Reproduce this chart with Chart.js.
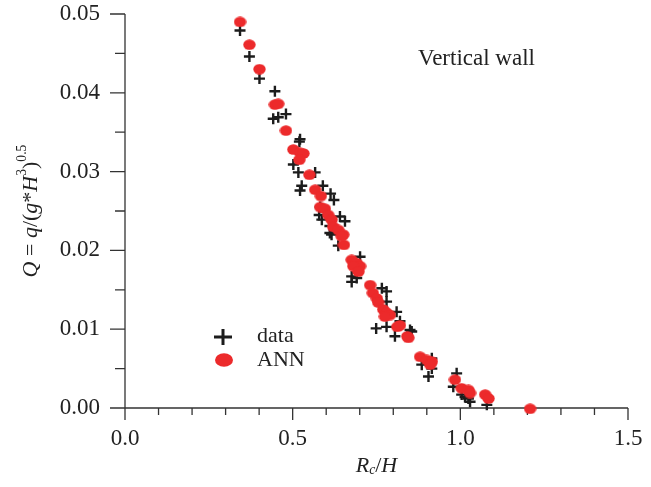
<!DOCTYPE html>
<html><head><meta charset="utf-8">
<script src="https://cdn.jsdelivr.net/npm/chart.js@4/dist/chart.umd.min.js"></script>
<style>html,body{margin:0;padding:0;background:#fff;}</style>
</head><body>
<canvas id="c" width="651" height="487"></canvas>
<script>
// ---- data ----
const dataX = [0.343,0.371,0.401,0.447,0.442,0.457,0.480,0.522,0.520,0.502,0.517,0.567,0.527,0.522,0.590,0.613,0.623,0.582,0.579,0.587,0.641,0.656,0.611,0.616,0.636,0.611,0.701,0.676,0.676,0.691,0.766,0.780,0.780,0.810,0.780,0.749,0.850,0.805,0.855,0.820,0.885,0.915,0.905,0.915,0.989,0.979,1.004,1.024,1.079,1.014,1.029];
const dataY = [0.0479,0.0446,0.0418,0.0402,0.0367,0.0369,0.0373,0.0341,0.0338,0.0309,0.0299,0.0299,0.0282,0.0276,0.0282,0.0272,0.0264,0.0255,0.0245,0.0239,0.0243,0.0237,0.0231,0.0220,0.0206,0.0222,0.0192,0.0167,0.0160,0.0165,0.0152,0.0148,0.0135,0.0122,0.0103,0.0101,0.0099,0.0091,0.0097,0.0110,0.0055,0.0063,0.0040,0.0050,0.0044,0.0027,0.0017,0.0012,0.0004,0.0014,0.0008];
const annX = [0.343,0.371,0.401,0.447,0.457,0.480,0.502,0.522,0.532,0.520,0.550,0.567,0.584,0.582,0.596,0.606,0.616,0.621,0.636,0.651,0.653,0.646,0.676,0.691,0.701,0.681,0.696,0.731,0.739,0.751,0.755,0.770,0.780,0.790,0.775,0.812,0.842,0.820,0.845,0.880,0.900,0.915,0.910,0.984,1.004,1.024,1.029,1.074,1.084,1.208];
const annY = [0.0490,0.0461,0.0430,0.0385,0.0386,0.0352,0.0328,0.0324,0.0323,0.0315,0.0296,0.0277,0.0269,0.0255,0.0253,0.0245,0.0239,0.0230,0.0226,0.0220,0.0207,0.0218,0.0188,0.0184,0.0180,0.0180,0.0173,0.0156,0.0146,0.0139,0.0134,0.0125,0.0121,0.0118,0.0116,0.0103,0.0091,0.0105,0.0089,0.0065,0.0061,0.0059,0.0055,0.0036,0.0025,0.0023,0.0019,0.0017,0.0012,-0.0001];
const xMajor = [0, 0.5, 1.0, 1.5];
const xMinor = [0.1,0.2,0.3,0.4,0.6,0.7,0.8,0.9,1.1,1.2,1.3,1.4];
const yMajor = [0, 0.01, 0.02, 0.03, 0.04, 0.05];
const yMinor = [0.005, 0.015, 0.025, 0.035, 0.045];
const seriesNames = ['data', 'ANN'];
const annotationText = 'Vertical wall';

const RED = '#ec2a2b';
const BLACK = '#1c1c1c';
const AXIS = '#333333';
const SERIF = '"Liberation Serif","Times New Roman",serif';

function ellipseCanvas(w, h, color) {
  const c = document.createElement('canvas');
  c.width = w; c.height = h;
  const g = c.getContext('2d');
  g.fillStyle = color;
  g.beginPath();
  g.ellipse(w/2, h/2, w/2 - 0.3, h/2 - 0.3, 0, 0, Math.PI*2);
  g.fill();
  return c;
}
const annMarker = ellipseCanvas(13, 11, RED);

function drawRich(ctx, parts, size) {
  let x = 0;
  for (const p of parts) {
    const fs = p.sup || p.sub ? size * 0.62 : size;
    ctx.font = (p.it ? 'italic ' : '') + fs + 'px ' + SERIF;
    const dy = p.sup ? -size * 0.38 : (p.sub ? size * 0.2 : 0);
    ctx.fillText(p.t, x, dy);
    x += ctx.measureText(p.t).width;
  }
  return x;
}
function measureRich(ctx, parts, size) {
  let x = 0;
  for (const p of parts) {
    const fs = p.sup || p.sub ? size * 0.62 : size;
    ctx.font = (p.it ? 'italic ' : '') + fs + 'px ' + SERIF;
    x += ctx.measureText(p.t).width;
  }
  return x;
}

const yTitle = [{t:'Q',it:1},{t:' = '},{t:'q',it:1},{t:'/('},{t:'g',it:1},{t:'*'},{t:'H',it:1},{t:'3',sup:1},{t:')'},{t:'0.5',sup:1}];
const xTitle = [{t:'R',it:1},{t:'c',it:1,sub:1},{t:'/'},{t:'H',it:1}];

const axesPlugin = {
  id: 'axesPlugin',
  beforeDatasetsDraw(chart) {
    const ctx = chart.ctx, xs = chart.scales.x, ys = chart.scales.y;
    const x0 = xs.getPixelForValue(0), x1 = xs.getPixelForValue(1.5);
    const y0 = ys.getPixelForValue(0), y1 = ys.getPixelForValue(0.05);
    ctx.save();
    ctx.strokeStyle = AXIS; ctx.lineWidth = 1.3;
    ctx.beginPath();
    ctx.moveTo(x0, y1); ctx.lineTo(x0, y0); ctx.lineTo(x1, y0);
    for (const v of xMajor) { const p = xs.getPixelForValue(v); ctx.moveTo(p, y0); ctx.lineTo(p, y0 + 12); }
    for (const v of xMinor) { const p = xs.getPixelForValue(v); ctx.moveTo(p, y0); ctx.lineTo(p, y0 + 7); }
    for (const v of yMajor) { const p = ys.getPixelForValue(v); ctx.moveTo(x0, p); ctx.lineTo(x0 - 15, p); }
    for (const v of yMinor) { const p = ys.getPixelForValue(v); ctx.moveTo(x0, p); ctx.lineTo(x0 - 10, p); }
    ctx.stroke();
    ctx.restore();
  },
  afterDraw(chart) {
    const ctx = chart.ctx, xs = chart.scales.x, ys = chart.scales.y;
    ctx.save();
    ctx.fillStyle = '#222';
    ctx.textBaseline = 'middle';
    const ySize = 22;
    const wY = measureRich(ctx, yTitle, ySize);
    const cy = (ys.getPixelForValue(0) + ys.getPixelForValue(0.05)) / 2;
    ctx.save();
    ctx.translate(31, cy);
    ctx.rotate(-Math.PI/2);
    ctx.translate(-wY/2, 0);
    drawRich(ctx, yTitle, ySize);
    ctx.restore();
    const wX = measureRich(ctx, xTitle, ySize);
    const cx = (xs.getPixelForValue(0) + xs.getPixelForValue(1.5)) / 2;
    ctx.save();
    ctx.translate(cx - wX/2, 466);
    drawRich(ctx, xTitle, ySize);
    ctx.restore();
    ctx.font = '23px ' + SERIF;
    ctx.textAlign = 'left';
    ctx.fillText(annotationText, xs.getPixelForValue(0.874), ys.getPixelForValue(0.0443));
    const lx = 223, ly1 = 337, ly2 = 360;
    ctx.strokeStyle = BLACK; ctx.lineWidth = 3;
    ctx.beginPath();
    ctx.moveTo(lx - 9, ly1); ctx.lineTo(lx + 9, ly1);
    ctx.moveTo(lx, ly1 - 8); ctx.lineTo(lx, ly1 + 8);
    ctx.stroke();
    ctx.fillStyle = RED;
    ctx.beginPath(); ctx.ellipse(lx + 1, ly2, 9, 6.8, 0, 0, Math.PI*2); ctx.fill();
    ctx.fillStyle = '#222';
    ctx.font = '22px ' + SERIF;
    ctx.fillText(seriesNames[0], 257, ly1 - 1);
    ctx.fillText(seriesNames[1], 257, ly2);
    ctx.restore();
  }
};

new Chart(document.getElementById('c'), {
  type: 'scatter',
  data: {
    datasets: [
      { label: seriesNames[0], order: 2,
        data: dataX.map((x, i) => ({x, y: dataY[i]})),
        pointStyle: 'cross', pointRadius: 5.5, pointHoverRadius: 5.5,
        borderColor: BLACK, backgroundColor: BLACK, borderWidth: 2.4, pointBorderWidth: 2.4 },
      { label: seriesNames[1], order: 1,
        data: annX.map((x, i) => ({x, y: annY[i]})),
        pointStyle: annMarker, pointRadius: 6, pointHoverRadius: 6,
        borderColor: RED, backgroundColor: RED }
    ]
  },
  options: {
    responsive: false, animation: false, devicePixelRatio: 1,
    clip: false,
    layout: { padding: { left: 0, right: 23, top: 14, bottom: 0 } },
    plugins: { legend: { display: false }, tooltip: { enabled: false } },
    scales: {
      x: {
        type: 'linear', min: 0, max: 1.5,
        afterBuildTicks: s => { s.ticks = xMajor.map(v => ({value: v})); },
        afterFit: s => { s.height = 79; s.paddingLeft = 0; s.paddingRight = 0; s.paddingTop = 0; s.paddingBottom = 0; },
        grid: { display: false, drawTicks: false },
        border: { display: false },
        ticks: { padding: 17, color: '#222', font: { family: SERIF, size: 23 },
                 callback: v => Number(v).toFixed(1), maxRotation: 0 }
      },
      y: {
        type: 'linear', min: 0, max: 0.05,
        afterBuildTicks: s => { s.ticks = yMajor.map(v => ({value: v})); },
        afterFit: s => { s.width = 125; s.paddingTop = 0; s.paddingBottom = 0; s.paddingLeft = 0; s.paddingRight = 0; },
        grid: { display: false, drawTicks: false },
        border: { display: false },
        ticks: { padding: 25, color: '#222', font: { family: SERIF, size: 23 },
                 callback: v => Number(v).toFixed(2) }
      }
    }
  },
  plugins: [axesPlugin]
});
</script>
</body></html>
